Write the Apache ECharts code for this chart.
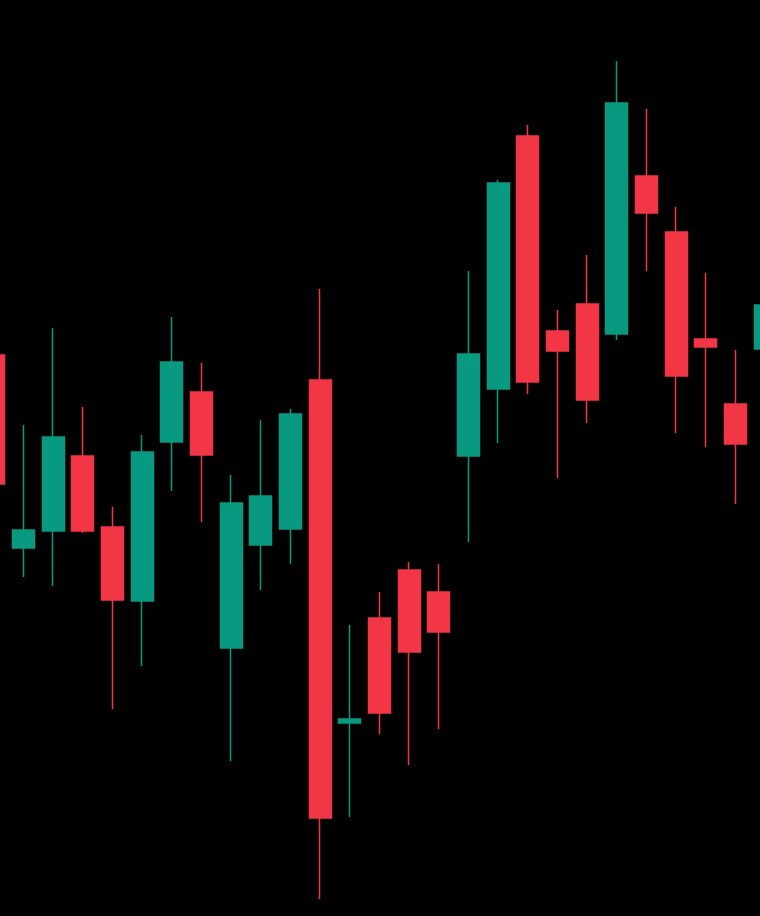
<!DOCTYPE html>
<html>
<head>
<meta charset="utf-8">
<style>
  html, body { margin: 0; padding: 0; background: #000; overflow: hidden; width: 760px; height: 916px; }
  #chart { position: absolute; left: -21px; top: 0; width: 801px; height: 916px; }
</style>
<script src="https://cdn.jsdelivr.net/npm/echarts@6/dist/echarts.min.js"></script>
</head>
<body>
<div id="chart"></div>
<script>
// Candle index labels (no visible axis in the reference)
const categories = ['1','2','3','4','5','6','7','8','9','10','11','12','13','14','15','16','17','18','19','20','21','22','23','24','25','26','27'];
// Values (arbitrary price units, higher = up)
const opens  = [561, 368, 385, 460, 389, 315, 474, 524, 268, 371, 387, 536, 193, 298, 346, 324, 460, 527, 780, 585, 612, 582, 740, 684, 577, 512, 567];
const closes = [432, 386, 479, 385, 316, 464, 554, 461, 413, 420, 502,  98, 197, 203, 264, 284, 562, 733, 534, 565, 516, 813, 703, 540, 569, 472, 611];
const lows   = [416, 339, 330, 383, 207, 250, 425, 394, 155, 326, 352,  17,  99, 182, 151, 187, 374, 473, 522, 438, 493, 576, 645, 483, 469, 412, 540];
const highs  = [576, 491, 588, 509, 409, 481, 599, 553, 441, 496, 507, 627, 291, 324, 354, 352, 645, 736, 791, 606, 661, 855, 807, 709, 643, 566, 640];

const candleData = opens.map((o, i) => [o, closes[i], lows[i], highs[i]]);

const chart = echarts.init(document.getElementById('chart'), null, { renderer: 'canvas' });
chart.setOption({
  backgroundColor: '#000000',
  animation: false,
  grid: { left: 0, right: 0, top: 0, bottom: 0, containLabel: false },
  xAxis: {
    type: 'category',
    data: categories,
    boundaryGap: true,
    show: false
  },
  yAxis: {
    type: 'value',
    min: 0,
    max: 916,
    show: false,
    splitLine: { show: false }
  },
  series: [{
    type: 'candlestick',
    data: candleData,
    barWidth: 22.5,
    clip: false,
    itemStyle: {
      color: '#089981',
      color0: '#F23645',
      borderColor: '#089981',
      borderColor0: '#F23645',
      borderWidth: 1.5
    }
  }]
});
</script>
</body>
</html>
